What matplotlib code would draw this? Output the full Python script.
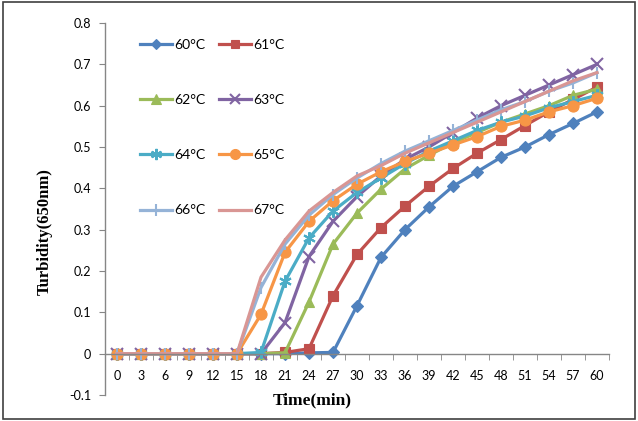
import matplotlib
matplotlib.use("Agg")
from matplotlib import pyplot as plt
from matplotlib.patches import Rectangle

# Data
time_x = [0, 3, 6, 9, 12, 15, 18, 21, 24, 27, 30, 33, 36, 39, 42, 45, 48, 51, 54, 57, 60]
t60 = [0, 0, 0, 0, 0, 0, 0, 0, 0.002, 0.003, 0.116, 0.233, 0.30, 0.355, 0.405, 0.44, 0.475, 0.50, 0.53, 0.557, 0.585]
t61 = [0, 0, 0, 0, 0, 0, 0, 0.003, 0.012, 0.14, 0.24, 0.305, 0.357, 0.405, 0.448, 0.485, 0.518, 0.552, 0.585, 0.615, 0.645]
t62 = [0, 0, 0, 0, 0, 0, 0, 0.002, 0.125, 0.265, 0.34, 0.398, 0.447, 0.48, 0.51, 0.535, 0.56, 0.58, 0.60, 0.625, 0.64]
t63 = [0, 0, 0, 0, 0, 0, 0, 0.075, 0.235, 0.32, 0.38, 0.43, 0.47, 0.50, 0.535, 0.57, 0.60, 0.625, 0.65, 0.675, 0.70]
t64 = [0, 0, 0, 0, 0, 0, 0.003, 0.175, 0.28, 0.345, 0.39, 0.425, 0.46, 0.49, 0.515, 0.54, 0.56, 0.575, 0.595, 0.61, 0.625]
t65 = [0, 0, 0, 0, 0, 0, 0.095, 0.245, 0.32, 0.37, 0.41, 0.44, 0.465, 0.485, 0.505, 0.525, 0.55, 0.565, 0.585, 0.60, 0.618]
t66 = [0, 0, 0, 0, 0, 0, 0.16, 0.265, 0.335, 0.385, 0.425, 0.46, 0.49, 0.515, 0.54, 0.565, 0.59, 0.61, 0.635, 0.655, 0.68]
t67 = [0, 0, 0, 0, 0, 0, 0.185, 0.275, 0.345, 0.39, 0.43, 0.455, 0.485, 0.51, 0.535, 0.56, 0.585, 0.61, 0.635, 0.66, 0.68]
series = [t60, t61, t62, t63, t64, t65, t66, t67]
labels = ['60°C', '61°C', '62°C', '63°C', '64°C', '65°C', '66°C', '67°C']
# Data

colors = ['#4F81BD', '#C0504D', '#9BBB59', '#8064A2', '#4BACC6', '#F79646', '#95B3D7', '#D99694']
markers = ['D', 's', '^', 'x', (6, 2, 0), 'o', '|', None]
msizes = [6, 7, 7.5, 8, 9, 8, 9, 0]

fig = plt.figure(figsize=(6.38, 4.21), dpi=100)
ax = fig.add_axes([105 / 638, 1 - 395 / 421, 504 / 638, 372 / 421])

pos = list(range(len(time_x)))
handles = []
for y, lab, c, m, ms in zip(series, labels, colors, markers, msizes):
    h, = ax.plot(pos, y, color=c, lw=2.3, marker=m, markersize=ms,
                 markeredgewidth=1.5 if m in ('x', '|', (6, 2, 0)) else 0.8,
                 markeredgecolor=c, label=lab)
    handles.append(h)

ax.set_xlim(-0.5, len(time_x) - 0.5)
ax.set_ylim(-0.1, 0.8)

# category axis at y=0
for s in ['top', 'right']:
    ax.spines[s].set_visible(False)
ax.spines['bottom'].set_position(('data', 0))
for s in ['bottom', 'left']:
    ax.spines[s].set_color('#868686')
    ax.spines[s].set_linewidth(1)

ax.set_xticks(pos)
ax.set_xticklabels([str(t) for t in time_x], fontsize=9, family='Lato')
ax.set_xticks([p - 0.5 for p in pos] + [pos[-1] + 0.5], minor=True)
ax.tick_params(axis='x', which='major', length=0, pad=12)
ax.tick_params(axis='x', which='minor', length=4, color='#868686', direction='out')

yt = [-0.1, 0, 0.1, 0.2, 0.3, 0.4, 0.5, 0.6, 0.7, 0.8]
ax.set_yticks(yt)
ax.set_yticklabels([f'{v:g}' for v in yt], fontsize=9, family='Lato')
ax.tick_params(axis='y', length=4, color='#868686', pad=6)

fig.text(312 / 638, 1 - 400 / 421, 'Time(min)', ha='center', va='center',
         fontsize=12.5, fontweight='bold', family='Liberation Serif')
fig.text(45 / 638, 1 - 232 / 421, 'Turbidity(650nm)', ha='center', va='center',
         rotation=90, fontsize=12, fontweight='bold', family='Liberation Serif')

# legend, row-major like the original
order = [0, 2, 4, 6, 1, 3, 5, 7]
leg = ax.legend([handles[i] for i in order], [labels[i] for i in order], ncol=2,
                loc='upper left', bbox_to_anchor=(0.045, 0.99), frameon=False,
                prop={'family': 'Lato', 'size': 10}, labelspacing=3.1,
                handlelength=2.3, handletextpad=0.15, columnspacing=1.0,
                markerscale=0.9)

# outer frame
fig.patches.append(Rectangle((0.004, 0.005), 0.992, 0.99, transform=fig.transFigure,
                             fill=False, edgecolor='#404040', lw=1.2))

fig.savefig('out.png', dpi=100)
